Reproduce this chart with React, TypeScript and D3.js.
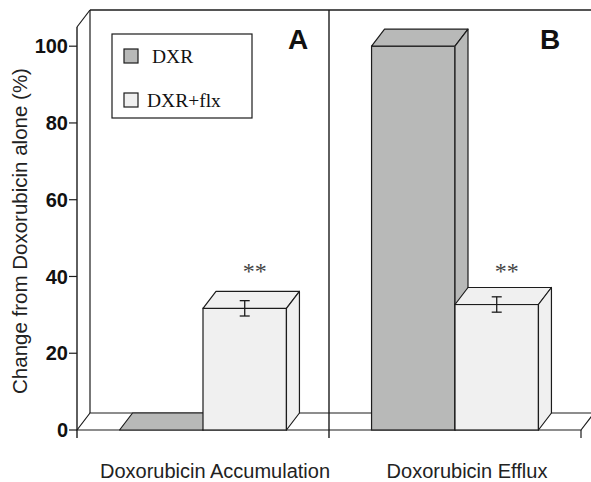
import React from "react";
import { scaleBand, scaleLinear } from "d3";

const categories = ["Doxorubicin Accumulation", "Doxorubicin Efflux"];
const panelLabels = ["A", "B"];
const series = ["DXR", "DXR+flx"];
const dxrValues = [0, 100];
const flxValues = [31.7, 32.7];
const flxErrors = [2.0, 2.0];
const flxStars = ["**", "**"];
const yTicks = [0, 20, 40, 60, 80, 100];

const colors: Record<string, string> = { DXR: "#b8b9b8", "DXR+flx": "#f0f0f0" };
const ink = "#1c1c1c";

const W = 591;
const H = 482;
const left = 77;
const right = 581;
const bottom = 430;
const dx = 13;
const dy = 17;

function App() {
  const x = scaleBand<string>().domain(categories).range([left, right]);
  const inner = scaleBand<string>()
    .domain(series)
    .range([0, x.bandwidth()])
    .paddingInner(0)
    .paddingOuter(0.51);
  const y = scaleLinear().domain([0, 105]).range([bottom, bottom - 403]);
  const top = y(105);

  const bar = (key: string, cat: string, v: number) => {
    const bx = (x(cat) ?? 0) + (inner(key) ?? 0);
    const w = inner.bandwidth();
    const by = y(v);
    const fill = colors[key];
    return (
      <g key={key + cat}>
        <rect x={bx} y={by} width={w} height={bottom - by} fill={fill} stroke={ink} strokeWidth={1.2} />
        <polygon
          points={`${bx},${by} ${bx + dx},${by - dy} ${bx + w + dx},${by - dy} ${bx + w},${by}`}
          fill={fill}
          stroke={ink}
          strokeWidth={1.2}
          strokeLinejoin="round"
        />
        <polygon
          points={`${bx + w},${by} ${bx + w + dx},${by - dy} ${bx + w + dx},${bottom - dy} ${bx + w},${bottom}`}
          fill={fill}
          stroke={ink}
          strokeWidth={1.2}
          strokeLinejoin="round"
        />
      </g>
    );
  };

  return (
    <svg width={W} height={H} style={{ position: "absolute", left: 0, top: 0 }}>
      <rect width={W} height={H} fill="#fff" />
      {/* floor */}
      <polygon
        points={`${left},${bottom} ${left + dx},${bottom - dy} ${right + dx},${bottom - dy} ${right},${bottom}`}
        fill="#fff"
        stroke={ink}
        strokeWidth={1.2}
      />
      {/* back and side walls */}
      <line x1={left + dx} y1={top - dy} x2={left + dx} y2={bottom - dy} stroke={ink} strokeWidth={1.2} />
      <line x1={left + dx} y1={top - dy} x2={W + 5} y2={top - dy} stroke={ink} strokeWidth={1.4} />
      <line x1={left} y1={top} x2={left + dx} y2={top - dy} stroke={ink} strokeWidth={1.2} />
      {/* panel divider */}
      <line x1={left + x.step()} y1={top - dy} x2={left + x.step()} y2={bottom + 8} stroke={ink} strokeWidth={1.4} />

      {categories.map((c, i) => bar("DXR", c, dxrValues[i]))}
      {categories.map((c, i) => bar("DXR+flx", c, flxValues[i]))}

      {categories.map((c, i) => {
        const cx = (x(c) ?? 0) + (inner("DXR+flx") ?? 0) + inner.bandwidth() / 2;
        const hi = y(flxValues[i] + flxErrors[i]);
        const lo = y(flxValues[i] - flxErrors[i]);
        return (
          <g key={"err" + c} stroke={ink} strokeWidth={1.3}>
            <line x1={cx} x2={cx} y1={hi} y2={lo} />
            <line x1={cx - 5} x2={cx + 5} y1={hi} y2={hi} />
            <line x1={cx - 5} x2={cx + 5} y1={lo} y2={lo} />
            <text
              x={cx + 10}
              y={y(40)}
              dy={3}
              textAnchor="middle"
              fontFamily="'Liberation Serif', serif"
              fontSize={24}
              fill="#444"
              stroke="none"
            >
              {flxStars[i]}
            </text>
          </g>
        );
      })}

      {/* front y axis */}
      <line x1={left} y1={top} x2={left} y2={bottom + 8} stroke={ink} strokeWidth={1.4} />
      <line x1={right} y1={bottom} x2={right} y2={bottom + 8} stroke={ink} strokeWidth={1.2} />
      {yTicks.map((t) => (
        <g key={t}>
          <line x1={left - 8} x2={left} y1={y(t)} y2={y(t)} stroke={ink} strokeWidth={1.2} />
          <text
            x={left - 9}
            y={y(t)}
            dy="0.36em"
            textAnchor="end"
            fontFamily="'Liberation Sans', Arial, sans-serif"
            fontWeight="bold"
            fontSize={20}
            fill="#111"
          >
            {t}
          </text>
        </g>
      ))}
      <text
        transform={`translate(27,231) rotate(-90)`}
        textAnchor="middle"
        fontFamily="'Liberation Sans', Arial, sans-serif"
        fontSize={20.5}
        fill="#222"
      >
        Change from Doxorubicin alone (%)
      </text>

      {categories.map((c, i) => (
        <text
          key={"lab" + c}
          x={(x(c) ?? 0) + x.bandwidth() / 2 + 12}
          y={478}
          textAnchor="middle"
          fontFamily="'Liberation Sans', Arial, sans-serif"
          fontSize={20}
          fill="#222"
        >
          {c}
        </text>
      ))}
      {categories.map((c, i) => (
        <text
          key={"pl" + c}
          x={(x(c) ?? 0) + x.bandwidth() - 31}
          y={49}
          textAnchor="middle"
          fontFamily="'Liberation Sans', Arial, sans-serif"
          fontWeight="bold"
          fontSize={28}
          fill="#111"
        >
          {panelLabels[i]}
        </text>
      ))}

      {/* legend */}
      <rect x={112} y={34} width={140} height={84} fill="#fff" stroke={ink} strokeWidth={1.2} />
      {series.map((s, i) => (
        <g key={s}>
          <rect x={124} y={49 + i * 44} width={14} height={14} fill={colors[s]} stroke={ink} strokeWidth={1.2} />
          <text
            x={i === 0 ? 152 : 147}
            y={63 + i * 44}
            fontFamily="'Liberation Serif', serif"
            fontSize={19.5}
            fill="#111"
          >
            {s}
          </text>
        </g>
      ))}
    </svg>
  );
}

export default App;
